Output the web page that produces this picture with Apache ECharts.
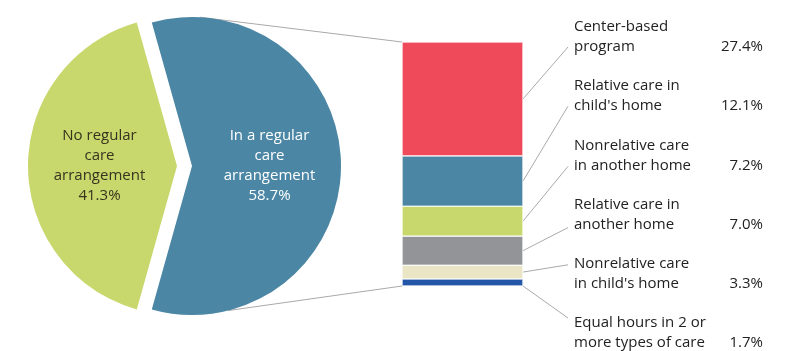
<!DOCTYPE html>
<html>
<head>
<meta charset="utf-8">
<script src="https://cdn.jsdelivr.net/npm/echarts@6/dist/echarts.min.js"></script>
<style>
  html, body { margin: 0; padding: 0; background: #fff; }
  #chart { width: 794px; height: 351px; }
</style>
</head>
<body>
<div id="chart"></div>
<script>
// pie: regular arrangement vs not
const pieNames = ['In a regular\ncare\narrangement', 'No regular\ncare\narrangement'];
const pieValues = [58.7, 41.3];
const pieColors = ['#4b86a4', '#c8d86d'];
const pieLabelColors = ['#ffffff', '#34341f'];

// breakdown of the regular arrangement, top to bottom
const typeLines = [
  ['Center-based', 'program'],
  ['Relative care in', "child's home"],
  ['Nonrelative care', 'in another home'],
  ['Relative care in', 'another home'],
  ['Nonrelative care', "in child's home"],
  ['Equal hours in 2 or', 'more types of care']
];
const typeValues = [27.4, 12.1, 7.2, 7.0, 3.3, 1.7];
const typeColors = ['#ee4a5a', '#4b86a4', '#c8d86d', '#929497', '#e9e5c5', '#2356a6'];

const font = '"Open Sans", sans-serif';
const textColor = '#222222';
const lineColor = '#a9a9a9';

// layout
const pieCx = 177, pieCy = 166, pieR = 149, pieOffset = 15;
const gridLeft = 402, gridRight = 271, gridTop = 42, gridBottom = 65;
const labelX = 574, valueX = 763, labelTop = 37, labelStep = 59.2;
const leaderEndX = 568;
const leaderEndDy = [10, 10, 11, 13, -9, -15];

const total = typeValues.reduce((a, b) => a + b, 0);
const pieTotal = pieValues.reduce((a, b) => a + b, 0);

const chart = echarts.init(document.getElementById('chart'));

// bars stacked bottom-up, so reverse the top-to-bottom lists
const barSeries = typeValues.map((v, i) => i).reverse().map(i => ({
  type: 'bar',
  stack: 'care',
  name: typeLines[i].join(' '),
  data: [typeValues[i]],
  barWidth: '100%',
  itemStyle: { color: typeColors[i], borderColor: '#ffffff', borderWidth: 0.6 },
  silent: true
}));

chart.setOption({
  animation: false,
  grid: { left: gridLeft, right: gridRight, top: gridTop, bottom: gridBottom },
  xAxis: { type: 'category', data: ['regular'], show: false },
  yAxis: { type: 'value', min: 0, max: total, show: false },
  series: [
    {
      type: 'pie',
      center: [pieCx, pieCy],
      radius: [0, pieR],
      // centre the "regular" slice on the right-hand side
      startAngle: 180 * pieValues[0] / pieTotal,
      clockwise: true,
      selectedMode: 'single',
      selectedOffset: pieOffset,
      silent: true,
      label: {
        show: true,
        position: 'inside',
        fontFamily: font,
        fontSize: 15,
        lineHeight: 20,
        formatter: p => p.name + '\n' + p.value.toFixed(1) + '%'
      },
      labelLine: { show: false },
      data: pieValues.map((v, i) => ({
        name: pieNames[i],
        value: v,
        selected: i === 0,
        itemStyle: { color: pieColors[i] },
        label: { color: pieLabelColors[i] }
      }))
    },
    ...barSeries
  ]
});

// annotation lines and labels placed off the axis scale
const graphics = [];
const toY = v => chart.convertToPixel({ gridIndex: 0 }, ['regular', v])[1];
const barRightX = 794 - gridRight;

let below = total;
typeValues.forEach((v, i) => {
  const mid = below - v / 2;
  below -= v;
  const cy = labelTop + labelStep * i;
  const y0 = i === typeValues.length - 1 ? toY(0) : toY(mid);
  graphics.push({
    type: 'line',
    shape: { x1: barRightX, y1: y0, x2: leaderEndX, y2: cy + leaderEndDy[i] },
    style: { stroke: lineColor, lineWidth: 1 },
    silent: true
  });
  graphics.push({
    type: 'text',
    x: labelX,
    y: cy,
    style: {
      text: typeLines[i].join('\n'),
      font: '15px ' + font,
      lineHeight: 20,
      fill: textColor,
      align: 'left',
      verticalAlign: 'middle'
    },
    silent: true
  });
  graphics.push({
    type: 'text',
    x: valueX,
    y: cy + 10,
    style: {
      text: v.toFixed(1) + '%',
      font: '15px ' + font,
      fill: textColor,
      align: 'right',
      verticalAlign: 'middle'
    },
    silent: true
  });
});

// connectors from the exploded slice to the bar
const bx = pieCx + pieOffset;
const ptAt = deg => [bx + pieR * Math.cos(deg * Math.PI / 180), pieCy - pieR * Math.sin(deg * Math.PI / 180)];
const topPt = ptAt(87), botPt = ptAt(-76);
graphics.push({
  type: 'line',
  shape: { x1: topPt[0], y1: topPt[1], x2: gridLeft, y2: toY(total) },
  style: { stroke: lineColor, lineWidth: 1 },
  silent: true
});
graphics.push({
  type: 'line',
  shape: { x1: botPt[0], y1: botPt[1], x2: gridLeft, y2: toY(0) },
  style: { stroke: lineColor, lineWidth: 1 },
  silent: true
});

chart.setOption({ graphic: graphics });
</script>
</body>
</html>
